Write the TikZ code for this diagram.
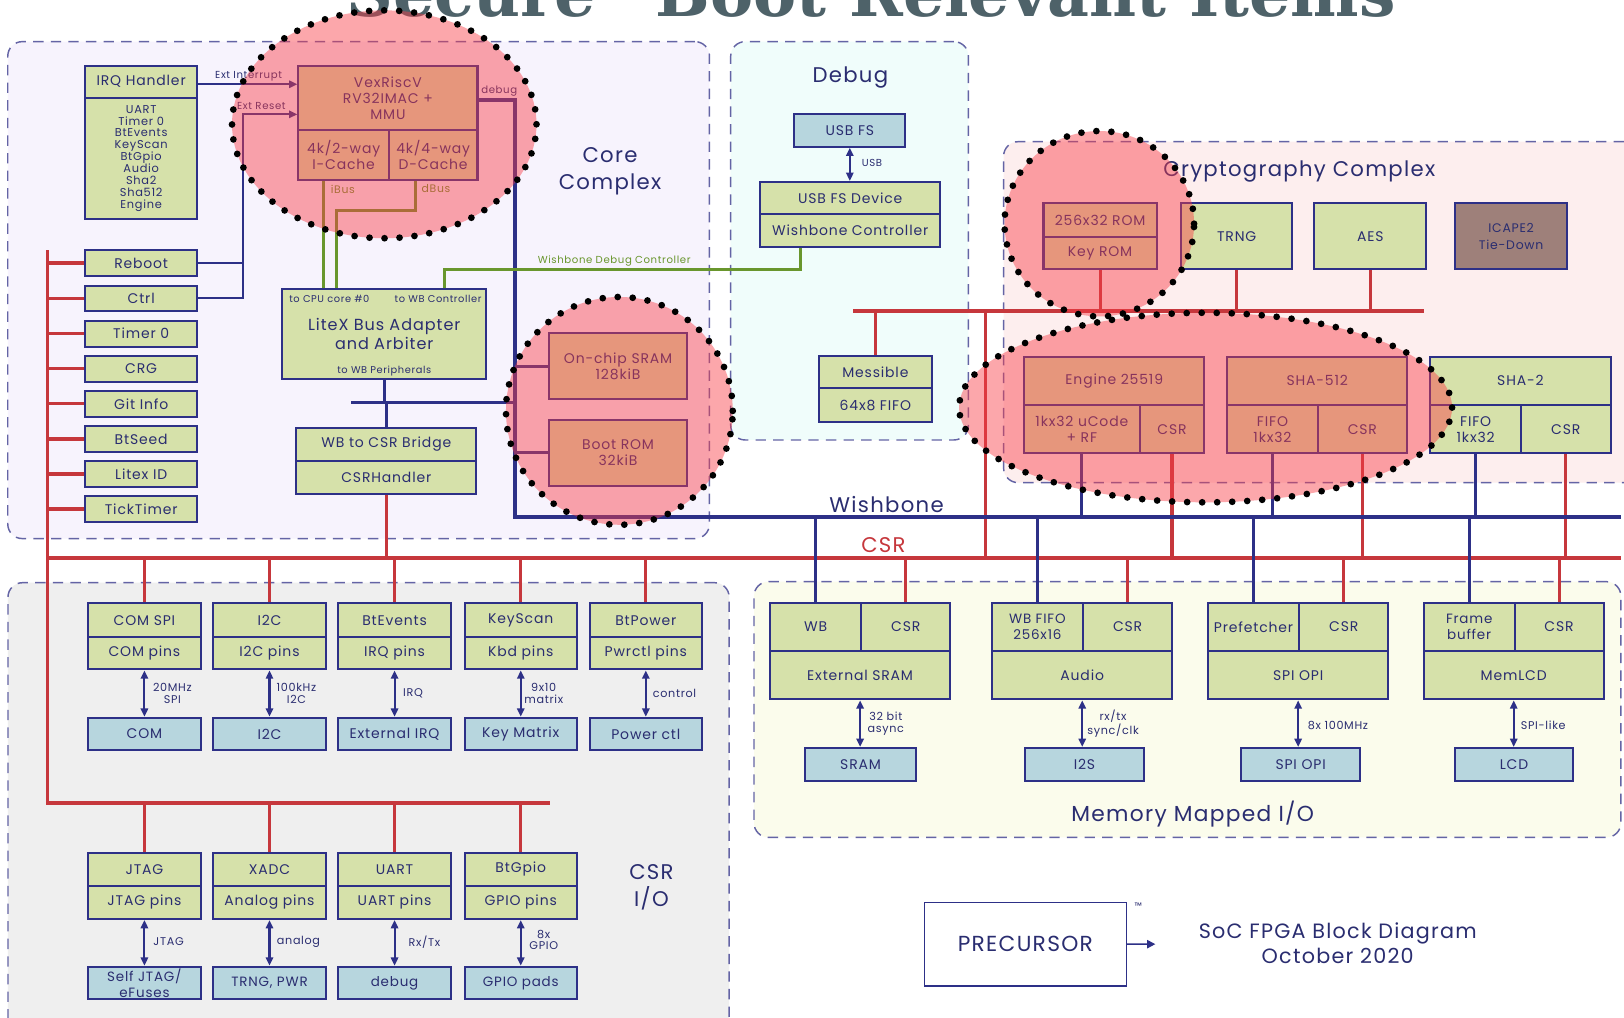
\documentclass[tikz,border=0pt]{standalone}
\usepackage{fontspec}
\setmainfont{Poppins}[LetterSpace=6]
\newfontfamily\ttlfont{DejaVu Serif}
\usetikzlibrary{arrows.meta,fit,shapes.geometric}

\definecolor{navy}{RGB}{45,48,135}
\definecolor{txt}{RGB}{42,45,112}
\definecolor{grn}{RGB}{214,225,170}
\definecolor{blu}{RGB}{183,214,222}
\definecolor{csrc}{RGB}{198,55,60}
\definecolor{wbg}{RGB}{105,150,45}
\definecolor{ica}{RGB}{158,128,122}
\definecolor{dashc}{RGB}{100,100,165}
\definecolor{fcore}{RGB}{247,243,253}
\definecolor{fdbg}{RGB}{240,253,251}
\definecolor{fcry}{RGB}{253,238,238}
\definecolor{fcsr}{RGB}{239,239,239}
\definecolor{fmm}{RGB}{251,252,236}
\definecolor{hot}{RGB}{250,60,70}
\definecolor{ttl}{RGB}{78,98,105}

\newcommand\fsz[2]{\fontsize{#1}{#2}\selectfont}
% a box given by two opposite corners, text centred in it
\newcommand\cell[7][box]{%
  \pgfmathsetmacro\cellx{(#3+#5)/2}\pgfmathsetmacro\celly{(#4+#6)/2}%
  \pgfmathsetmacro\cellw{#5-#3}\pgfmathsetmacro\cellh{#6-#4}%
  \node[#1, minimum width=\cellw pt, minimum height=\cellh pt] (#2) at (\cellx,\celly) {#7};}

\tikzset{
  box/.style={draw=navy, line width=2pt, fill=grn, text=txt, inner sep=0pt,
    align=center, font=\fsz{13.5}{15.5}},
  pbox/.style={box, fill=blu},
  mbox/.style={box, fill=ica, font=\fsz{12}{16}},
  group/.style={draw=dashc, line width=1.4pt, dash pattern=on 10pt off 7pt,
    rounded corners=14pt, inner sep=0pt},
  redbus/.style={draw=csrc, line width=3.5pt},
  redwire/.style={draw=csrc, line width=3pt},
  bluebus/.style={draw=navy, line width=3.5pt},
  bluewire/.style={draw=navy, line width=3pt},
  navywire/.style={draw=navy, line width=2pt},
  grnwire/.style={draw=wbg, line width=3pt},
  tip/.style={-{Triangle[length=8pt,width=7pt]}},
  biarrow/.style={draw=navy, line width=2pt,
    {Triangle[length=8pt,width=7pt]}-{Triangle[length=8pt,width=7pt]}},
  tag/.style={text=txt, font=\fsz{10.8}{11.5}, align=center, inner sep=0pt},
  small/.style={tag, font=\fsz{9.8}{11}},
  big/.style={text=txt, font=\fsz{20.5}{26}, align=center, inner sep=0pt},
  hotspot/.style={ellipse, fill=hot, fill opacity=0.45, draw=black,
    line width=6.5pt, dash pattern=on 0pt off 14.5pt, line cap=round,
    inner sep=0pt},
}

\begin{document}
\begin{tikzpicture}[x=1pt,y=-1pt]
\useasboundingbox (0,0) rectangle (1568,982);
\fill[white] (0,0) rectangle (1568,982);

% heading, cut by the top edge
\node[anchor=base, text=ttl, inner sep=0pt,
  font=\ttlfont\bfseries\fsz{62.5}{64}] (title) at (823,16)
  {“Secure” Boot Relevant Items};

% ---------- groups ----------
\node[group, fill=fcore, fit={(7.5,40.2) (685,520)}] (core) {};
\node[group, fill=fdbg, fit={(705.5,40.2) (935,424.8)}] (dbg) {};
\node[group, fill=fcry, fit={(969,136.8) (1650,466)}] (cry) {};
\node[group, fill=fcsr, fit={(7.7,562.6) (704,1010)}] (csrio) {};
\node[group, fill=fmm, fit={(728,561.6) (1565,808.5)}] (mmio) {};

\node[big] (lcore) at (589,165.5) {Core\\Complex};
\node[big] (ldbg) at (821,75) {Debug};
\node[big] (lcry) at (1254.5,166) {Cryptography Complex};
\node[big] (lcsrio) at (629,857) {CSR\\I/O};
\node[big, font=\fsz{21}{26}] (lmm) at (1151.5,786) {Memory Mapped I/O};
\node[big] (lwb) at (856,487) {Wishbone};
\node[big, text=csrc] (lcsr) at (853,526) {CSR};

% ---------- core complex ----------
\cell{irqh}{82}{63.4}{190.6}{94.3}{IRQ Handler}
\cell[box, font=\fsz{11}{11.5}]{irqb}{82}{94.3}{190.6}{211.5}
  {UART\\Timer 0\\BtEvents\\KeyScan\\BtGpio\\Audio\\Sha2\\Sha512\\Engine}
\foreach \n/\a/\b/\t in {reboot/241.4/266.5/Reboot, ctrl/275.8/300.4/Ctrl,
    tmr/309.6/334.7/Timer 0, crg/343.7/368.5/CRG, git/377.5/402.3/Git Info,
    seed/411.3/436.4/BtSeed, lid/445.1/470.2/Litex ID,
    tick/478.9/504/TickTimer}
  {\cell{\n}{82}{\a}{190.6}{\b}{\t}}

\cell{vex}{288.1}{63.4}{461}{125.5}{VexRiscV\\RV32IMAC +\\MMU}
\cell{icache}{288.1}{125.5}{375.5}{173.8}{4k/2-way\\I-Cache}
\cell{dcache}{375.5}{125.5}{461}{173.8}{4k/4-way\\D-Cache}

\cell{litex}{272.7}{279}{469}{366.3}{}
\node[small, font=\fsz{9.5}{10}] (lcpu0) at (318,288.5) {to CPU core \#0};
\node[small, font=\fsz{9.5}{10}] (lwbc) at (423,288.5) {to WB Controller};
\node[tag, font=\fsz{15.5}{18}] (llitex) at (371,322.5) {LiteX Bus Adapter\\and Arbiter};
\node[small, font=\fsz{9.5}{10}] (lwbp) at (371,358) {to WB Peripherals};

\cell{wbcsr}{286}{413}{460}{445.4}{WB to CSR Bridge}
\cell{csrh}{286}{445.4}{460}{477.3}{CSRHandler}
\cell{sram}{530.5}{321.8}{663}{385.3}{On-chip SRAM\\128kiB}
\cell{brom}{530.5}{405.5}{663}{469}{Boot ROM\\32kiB}

% ---------- debug ----------
\cell[pbox]{usbfs}{767}{110}{874}{141.6}{USB FS}
\cell{usbdev}{733.8}{175.7}{908}{207}{USB FS Device}
\cell{wbctl}{733.8}{207}{908}{238.2}{Wishbone Controller}
\cell{messible}{790.8}{343.7}{899.5}{375}{Messible}
\cell{mfifo}{790.8}{375}{899.5}{407.8}{64x8 FIFO}

% ---------- cryptography complex ----------
\cell{rom}{1007.5}{196.3}{1116.8}{228.5}{256x32 ROM}
\cell{keyrom}{1007.5}{228.5}{1116.8}{260}{Key ROM}
\cell{trng}{1140.5}{196.3}{1247.6}{260}{TRNG}
\cell{aes}{1269}{196.3}{1377}{260}{AES}
\cell[mbox]{icape}{1405}{196.3}{1513}{260}{ICAPE2\\Tie-Down}
\cell{eng}{988.8}{344.4}{1162.9}{391}{Engine 25519}
\cell{ucode}{988.8}{391}{1100.3}{437.7}{1kx32 uCode\\+ RF}
\cell{ecsr}{1100.3}{391}{1162.9}{437.7}{CSR}
\cell{sha5}{1185}{344.4}{1358.6}{391}{SHA-512}
\cell{sfifo}{1185}{391}{1272.2}{437.7}{FIFO\\1kx32}
\cell{scsr}{1272.2}{391}{1358.6}{437.7}{CSR}
\cell{sha2}{1381}{344.4}{1555}{391}{SHA-2}
\cell{s2fifo}{1381}{391}{1468.5}{437.7}{FIFO\\1kx32}
\cell{s2csr}{1468.5}{391}{1555}{437.7}{CSR}

% ---------- CSR I/O ----------
\foreach \n/\p/\q/\a/\b/\c/\d/\e in {
    comspi/compin/com/85.2/193.7/COM SPI/COM pins/COM,
    i2c/i2cpin/i2cb/206/314.4/I2C/I2C pins/I2C,
    btev/irqpin/extirq/326.7/435.2/BtEvents/IRQ pins/External IRQ,
    keysc/kbdpin/keym/448.8/556.8/KeyScan/Kbd pins/Key Matrix,
    btpw/pwrpin/pwrctl/569.6/677.5/BtPower/Pwrctl pins/Power ctl}
  {\cell{\n}{\a}{582.5}{\b}{615.3}{\c}
   \cell{\p}{\a}{615.3}{\b}{646.3}{\d}
   \cell[pbox]{\q}{\a}{693}{\b}{724.2}{\e}
   \draw[biarrow] (\p.south) -- (\q.north);}
\foreach \n/\p/\q/\a/\b/\c/\d/\e in {
    jtag/jtagpin/selfj/85.2/193.7/JTAG/JTAG pins/{Self JTAG/\\eFuses},
    xadc/anpin/trngpwr/206/314.4/XADC/Analog pins/{TRNG, PWR},
    uart/uartpin/dbgb/326.7/435.2/UART/UART pins/debug,
    btgpio/gpiopin/gpiopad/448.8/556.8/BtGpio/GPIO pins/GPIO pads}
  {\cell{\n}{\a}{823.3}{\b}{855.2}{\c}
   \cell{\p}{\a}{855.2}{\b}{887.3}{\d}
   \cell[pbox, font=\fsz{13}{15.5}]{\q}{\a}{933.4}{\b}{964.9}{\e}
   \draw[biarrow] (\p.south) -- (\q.north);}

\node[tag] (t1) at (166.4,669.7) {20MHz\\SPI};
\node[tag] (t2) at (286.2,669.7) {100kHz\\I2C};
\node[tag] (t3) at (398.8,669.4) {IRQ};
\node[tag] (t4) at (525,669.7) {9x10\\matrix};
\node[tag] (t5) at (651.3,669.4) {control};
\node[tag] (t6) at (162.8,909.2) {JTAG};
\node[tag] (t7) at (288.2,909.2) {analog};
\node[tag] (t8) at (409.7,909.2) {Rx/Tx};
\node[tag] (t9) at (525,907.5) {8x\\GPIO};

% ---------- memory mapped I/O ----------
\cell{mwb1}{743.4}{581.9}{831.5}{628.6}{WB}
\cell{mcsr1}{831.5}{581.9}{917.5}{628.6}{CSR}
\cell{mext}{743.4}{628.6}{917.5}{675.2}{External SRAM}
\cell[pbox]{msram}{777}{722.2}{884.8}{753.8}{SRAM}
\cell[box, font=\fsz{13}{15}]{mwb2}{957.8}{581.9}{1045.4}{628.6}{WB FIFO\\256x16}
\cell{mcsr2}{1045.4}{581.9}{1132}{628.6}{CSR}
\cell{maud}{957.8}{628.6}{1132}{675.2}{Audio}
\cell[pbox]{mi2s}{989.9}{722.2}{1104.2}{753.8}{I2S}
\cell{mwb3}{1166.3}{581.9}{1254.4}{628.6}{Prefetcher}
\cell{mcsr3}{1254.4}{581.9}{1340.5}{628.6}{CSR}
\cell{mspi}{1166.3}{628.6}{1340.5}{675.2}{SPI OPI}
\cell[pbox]{mspib}{1198.3}{722.2}{1313.2}{753.8}{SPI OPI}
\cell[box, font=\fsz{13}{15}]{mwb4}{1374.7}{581.9}{1462.3}{628.6}{Frame\\buffer}
\cell{mcsr4}{1462.3}{581.9}{1548.3}{628.6}{CSR}
\cell{mlcd}{1374.7}{628.6}{1548.3}{675.2}{MemLCD}
\cell[pbox]{mlcdb}{1404.6}{722.2}{1519}{753.8}{LCD}
\draw[biarrow] (mext.south) -- (mext.south |- msram.north);
\draw[biarrow] (maud.south) -- (maud.south |- mi2s.north);
\draw[biarrow] (mspi.south) -- (mspi.south |- mspib.north);
\draw[biarrow] (mlcd.south) -- (mlcd.south |- mlcdb.north);
\node[tag] (t10) at (855.3,698.7) {32 bit\\async};
\node[tag] (t11) at (1074.7,698.7) {rx/tx\\sync/clk};
\node[tag] (t12) at (1291.8,700.7) {8x 100MHz};
\node[tag] (t13) at (1490,700.7) {SPI-like};

% ---------- CSR bus (red) ----------
\coordinate (redtop) at (46,241.4);
\coordinate (csrL) at (46,538.5);
\coordinate (csrR) at (1565,538.5);
\coordinate (lowL) at (46,775.6);
\coordinate (lowR) at (530.8,775.6);
\coordinate (cryL) at (824,300.3);
\coordinate (cryR) at (1375,300.3);
\coordinate (cryDrop) at (951.3,300.3);
\draw[redbus] (redtop) -- (lowL) -- (lowR);
\draw[redbus] (csrL) -- (csrR);
\foreach \n in {reboot,ctrl,tmr,crg,git,seed,lid,tick}
  \draw[redwire] (\n.west -| redtop) -- (\n.west);
\draw[redwire] (csrh.south) -- (csrh.south |- csrL);
\foreach \n in {comspi,i2c,btev,keysc,btpw}
  \draw[redwire] (\n.north |- csrL) -- (\n.north);
\foreach \n in {jtag,xadc,uart,btgpio}
  \draw[redwire] (\n.north |- lowL) -- (\n.north);
\draw[redwire] (cryL) -- (cryR);
\draw[redwire] (messible.north |- cryL) -- (messible.north);
\foreach \n in {keyrom,trng,aes}
  \draw[redwire] (\n.south) -- (\n.south |- cryL);
\draw[redwire] (cryDrop) -- (cryDrop |- csrL);
\foreach \n in {ecsr,scsr,s2csr}
  \draw[redwire] (\n.south) -- (\n.south |- csrL);
\foreach \n in {mcsr1,mcsr2,mcsr3,mcsr4}
  \draw[redwire] (\n.north |- csrL) -- (\n.north);

% ---------- wishbone (navy) ----------
\coordinate (dbgB) at (497,96.5);
\coordinate (wbL) at (497,499);
\coordinate (wbR) at (1565,499);
\coordinate (lxbusL) at (339,388.5);
\draw[bluebus] (vex.east |- dbgB) -- (dbgB) -- (wbL) -- (wbR);
\draw[bluewire] (sram.west -| wbL) -- (sram.west);
\draw[bluewire] (brom.west -| wbL) -- (brom.west);
\draw[bluewire] (litex.south) -- (litex.south |- lxbusL);
\draw[bluewire] (lxbusL) -- (lxbusL -| wbL);
\draw[bluewire] (wbcsr.north |- lxbusL) -- (wbcsr.north);
\foreach \n in {ucode,sfifo,s2fifo}
  \draw[bluewire] (\n.south) -- (\n.south |- wbL);
\foreach \n in {mwb1,mwb2,mwb3,mwb4}
  \draw[bluewire] (\n.north |- wbL) -- (\n.north);

% interrupt and reset into the CPU
\coordinate (rstx) at (235,110.4);
\draw[navywire, tip] ([yshift=-2.5pt]irqh.east) -- ([yshift=-2.5pt]irqh.east -| vex.west);
\draw[navywire] (reboot.east) -- (reboot.east -| rstx);
\draw[navywire, tip] (ctrl.east) -| (rstx) -- (rstx -| vex.west);
\node[small] (lexti) at (240,73.4) {Ext Interrupt};
\node[small] (lextr) at (252.4,102) {Ext Reset};
\node[small] (ldebug) at (482,87.5) {debug};

% CPU buses and debug controller (green)
\coordinate (dbend) at (325,203.4);
\coordinate (wdbend) at (429,260);
\draw[grnwire] ([xshift=-19.3pt]icache.south) -- ([xshift=-19.3pt]icache.south |- litex.north);
\draw[grnwire] ([xshift=-17.3pt]dcache.south) |- (dbend) -- (dbend |- litex.north);
\draw[grnwire] ([xshift=-48.3pt]wbctl.south) |- (wdbend) -- (wdbend |- litex.north);
\node[tag, text=wbg, font=\fsz{10.5}{11}] (libus) at (331,182.5) {iBus};
\node[tag, text=wbg, font=\fsz{10.5}{11}] (ldbus) at (421,182.5) {dBus};
\node[small, text=wbg] (lwdc) at (593,252) {Wishbone Debug Controller};

% USB link
\draw[biarrow] (usbfs.south) -- (usbfs.south |- usbdev.north);
\node[small] (lusb) at (842,157.7) {USB};

% ---------- footer ----------
\cell[box, fill=white, line width=1.3pt, font=\fsz{21}{24}]{prec}{892.6}{871.2}{1087.4}{952}{PRECURSOR}
\node[tag, font=\fsz{9}{10}] (tm) at (1099,875.4) {™};
\coordinate (ptip) at (1115.5,911.6);
\draw[draw=navy, line width=1.5pt, -{Triangle[length=8pt,width=8pt]}] (prec.east) -- (ptip);
\node[big, font=\fsz{20}{24}] (soc) at (1291.6,910.4) {SoC FPGA Block Diagram\\October 2020};

% ---------- highlighted regions ----------
\node[hotspot, minimum width=294pt, minimum height=220pt] (hcpu) at (371,120) {};
\node[hotspot, minimum width=219pt, minimum height=220pt] (hmem) at (598,396.7) {};
\node[hotspot, minimum width=183pt, minimum height=179pt] (hkey) at (1061.4,216) {};
\node[hotspot, minimum width=476pt, minimum height=183pt] (heng) at (1164,393.5) {};
\end{tikzpicture}
\end{document}
